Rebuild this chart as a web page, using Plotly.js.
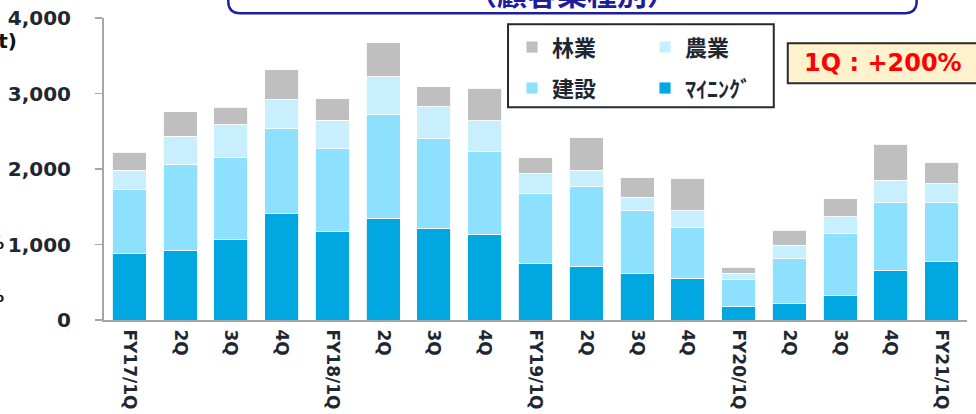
<!DOCTYPE html>
<html>
<head>
<meta charset="utf-8">
<script src="https://cdn.plot.ly/plotly-3.0.1.min.js"></script>
<style>
  html, body { margin: 0; padding: 0; background: #fff; }
  #chart { width: 976px; height: 414px; }
</style>
</head>
<body>
<div id="chart"></div>
<script>
// Quarter labels (x axis)
const quarters = ['FY17/1Q', '2Q', '3Q', '4Q', 'FY18/1Q', '2Q', '3Q', '4Q',
                  'FY19/1Q', '2Q', '3Q', '4Q', 'FY20/1Q', '2Q', '3Q', '4Q', 'FY21/1Q'];

// Sales by customer industry (thousand t)
const mining       = [887, 914, 1060, 1413, 1166, 1351, 1214, 1139, 755, 706, 613, 552, 177, 212, 322, 662, 781];
const construction = [844, 1152, 1099, 1117, 1099, 1377, 1187, 1099, 927, 1056, 835, 676, 353, 600, 830, 892, 773];
const agriculture  = [252, 367, 424, 384, 384, 495, 424, 398, 252, 221, 177, 220, 88, 177, 217, 300, 252];
const forestry     = [242, 326, 234, 401, 282, 450, 265, 433, 216, 428, 256, 429, 80, 203, 234, 477, 282];

const yTicks = [0, 1000, 2000, 3000, 4000];
const yTickText = ['0', '1,000', '2,000', '3,000', '4,000'];

const xs = quarters.map((_, i) => i);
const darkText = '#1e2833';

// One bar trace per industry, stacked bottom-up
const makeTrace = (name, values, color, legend, rank) => ({
    type: 'bar',
    name: name,
    x: xs,
    y: values,
    marker: { color: color, line: { color: 'rgba(255,255,255,0.85)', width: 1 } },
    legend: legend,
    legendrank: rank,
    hoverinfo: 'skip'
});

const data = [
    makeTrace('ﾏｲﾆﾝｸﾞ', mining, '#00a7e0', 'legend2', 2),
    makeTrace('建設', construction, '#8ee1fe', 'legend2', 1),
    makeTrace('農業', agriculture, '#c8effe', 'legend', 2),
    makeTrace('林業', forestry, '#bfbfbf', 'legend', 1)
];

// pixel -> paper helpers (plot area is 103.6..967.4 x 17.7..320)
const W = 976, H = 414, L = 103.6, R = 8.6, T = 17.7, B = 94;
const pw = W - L - R, ph = H - T - B;
const px = v => (v - L) / pw;
const py = v => (H - B - v) / ph;

const legendFont = { family: '"Noto Sans CJK JP", "Noto Sans", sans-serif', size: 22, weight: 'bold', color: darkText };
const legendBase = {
    orientation: 'h',
    xanchor: 'left',
    yanchor: 'middle',
    bgcolor: 'rgba(0,0,0,0)',
    borderwidth: 0,
    font: legendFont,
    entrywidth: 88,
    entrywidthmode: 'pixels',
    itemwidth: 30,
    traceorder: 'normal'
};

// rounded title frame (top part is cut off)
const tx0 = px(228), tx1 = px(917), tyb = py(13), tyt = py(-30);
const rx = 12 / pw, ry = 12 / ph;
const titlePath = `M ${tx0},${tyt} L ${tx0},${tyb + ry} Q ${tx0},${tyb} ${tx0 + rx},${tyb} ` +
                  `L ${tx1 - rx},${tyb} Q ${tx1},${tyb} ${tx1},${tyb + ry} L ${tx1},${tyt}`;

const layout = {
    width: W,
    height: H,
    margin: { l: L, r: R, t: T, b: B, pad: 0 },
    paper_bgcolor: '#ffffff',
    plot_bgcolor: '#ffffff',
    barmode: 'stack',
    bargap: 0.33,
    font: { family: '"DejaVu Sans", Verdana, sans-serif', color: darkText },
    xaxis: {
        range: [-0.5, quarters.length - 0.5],
        tickmode: 'array',
        tickvals: xs,
        ticktext: quarters,
        tickangle: 90,
        ticks: '',
        showgrid: false,
        zeroline: false,
        showline: true,
        linecolor: '#a6a6a6',
        linewidth: 2,
        ticklabelstandoff: 4,
        tickfont: { family: '"DejaVu Sans", sans-serif', size: 17, weight: 'bold', color: darkText },
        fixedrange: true
    },
    yaxis: {
        range: [0, 4000],
        tickmode: 'array',
        tickvals: yTicks,
        ticktext: yTickText,
        ticks: 'outside',
        ticklen: 7,
        tickwidth: 1.5,
        tickcolor: '#a6a6a6',
        showgrid: false,
        zeroline: false,
        showline: true,
        linecolor: '#a6a6a6',
        linewidth: 2,
        ticklabelstandoff: 20,
        tickfont: { family: '"DejaVu Sans", sans-serif', size: 20, weight: 'bold', color: darkText },
        fixedrange: true
    },
    showlegend: true,
    legend: Object.assign({}, legendBase, { x: px(512), y: py(47) }),
    legend2: Object.assign({}, legendBase, { x: px(512), y: py(88) }),
    shapes: [
        // legend frame
        { type: 'rect', xref: 'paper', yref: 'paper', x0: px(508), x1: px(774), y0: py(107), y1: py(24),
          line: { color: '#222a33', width: 2 }, fillcolor: '#ffffff', layer: 'above' },
        // highlight box
        { type: 'rect', xref: 'paper', yref: 'paper', x0: px(788), x1: px(990), y0: py(83), y1: py(43),
          line: { color: '#2a2a2a', width: 2 }, fillcolor: '#fff2cc', layer: 'above' },
        // title frame
        { type: 'path', xref: 'paper', yref: 'paper', path: titlePath,
          line: { color: '#1d1d9f', width: 2.5 }, layer: 'above' }
    ],
    annotations: [
        { xref: 'paper', yref: 'paper', x: px(883), y: py(63), xanchor: 'center', yanchor: 'middle',
          text: '1Q : +200%', showarrow: false,
          font: { family: '"DejaVu Sans", sans-serif', size: 24, weight: 'bold', color: '#ff0000' } },
        { xref: 'paper', yref: 'paper', x: px(572), y: py(16), xanchor: 'center', yanchor: 'bottom',
          text: '（顧客業種別）', showarrow: false,
          font: { family: '"Noto Sans CJK JP", sans-serif', size: 30, weight: 'bold', color: '#1d1d9f' } },
        { xref: 'paper', yref: 'paper', x: px(19), y: py(41), xanchor: 'right', yanchor: 'middle',
          text: '(千t)', showarrow: false,
          font: { family: '"DejaVu Sans", sans-serif', size: 20, weight: 'bold', color: '#111111' } },
        { xref: 'paper', yref: 'paper', x: px(6), y: py(243), xanchor: 'right', yanchor: 'middle',
          text: '%', showarrow: false,
          font: { family: '"DejaVu Sans", sans-serif', size: 17, weight: 'bold', color: '#111111' } },
        { xref: 'paper', yref: 'paper', x: px(6), y: py(296), xanchor: 'right', yanchor: 'middle',
          text: '%', showarrow: false,
          font: { family: '"DejaVu Sans", sans-serif', size: 17, weight: 'bold', color: '#111111' } }
    ]
};

Plotly.newPlot('chart', data, layout, { displayModeBar: false, staticPlot: true });
</script>
</body>
</html>
